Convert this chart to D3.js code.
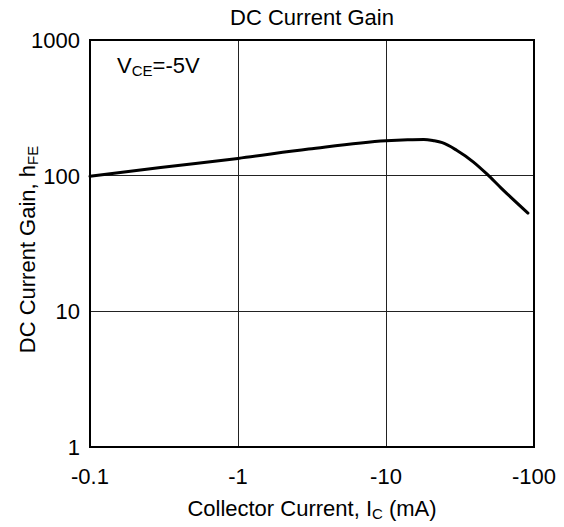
<!DOCTYPE html>
<html>
<head>
<meta charset="utf-8">
<script src="https://cdn.jsdelivr.net/npm/d3@7"></script>
<style>
  body { margin: 0; background: #fff; }
  text { font-family: "Liberation Sans", Arial, sans-serif; fill: #000; }
</style>
</head>
<body>
<div id="chart"></div>
<script>
// Data (Ic in mA, magnitude; hFE)
const current = [0.1, 0.3, 1, 3, 10, 14, 18, 21, 24, 30, 39, 48, 60, 91];
const gain = [99, 115, 134, 157, 181, 184, 185, 181, 175, 154, 126, 103, 81, 53];
const xTicks = [0.1, 1, 10, 100];
const xTickLabels = ["-0.1", "-1", "-10", "-100"];
const yTicks = [1, 10, 100, 1000];

const W = 564, H = 527;
const margin = { top: 40, right: 30, bottom: 80, left: 90 };
const width = W - margin.left - margin.right;
const height = H - margin.top - margin.bottom;

const svg = d3.select("#chart").append("svg")
  .attr("width", W).attr("height", H);

const g = svg.append("g")
  .attr("transform", `translate(${margin.left},${margin.top})`);

const x = d3.scaleLog().domain([0.1, 100]).range([0, width]);
const y = d3.scaleLog().domain([1, 1000]).range([height, 0]);

// grid
g.selectAll(".vgrid").data(xTicks.slice(1, -1)).enter().append("line")
  .attr("x1", d => x(d)).attr("x2", d => x(d))
  .attr("y1", 0).attr("y2", height)
  .attr("stroke", "#222").attr("stroke-width", 1)
  .attr("shape-rendering", "crispEdges");
g.selectAll(".hgrid").data(yTicks.slice(1, -1)).enter().append("line")
  .attr("y1", d => y(d)).attr("y2", d => y(d))
  .attr("x1", 0).attr("x2", width)
  .attr("stroke", "#222").attr("stroke-width", 1)
  .attr("shape-rendering", "crispEdges");

// frame
g.append("rect")
  .attr("width", width).attr("height", height)
  .attr("fill", "none").attr("stroke", "#000").attr("stroke-width", 2);

// tick labels
g.selectAll(".xlab").data(xTicks).enter().append("text")
  .attr("x", d => x(d)).attr("y", height + 37)
  .attr("text-anchor", "middle").attr("font-size", 22)
  .text((d, i) => xTickLabels[i]);
g.selectAll(".ylab").data(yTicks).enter().append("text")
  .attr("x", -10).attr("y", d => y(d) + 8)
  .attr("text-anchor", "end").attr("font-size", 22)
  .text(d => d);

// curve
const line = d3.line()
  .x(d => x(d[0])).y(d => y(d[1]))
  .curve(d3.curveMonotoneX);
g.append("path")
  .datum(current.map((c, i) => [c, gain[i]]))
  .attr("d", line)
  .attr("fill", "none").attr("stroke", "#000")
  .attr("stroke-width", 3).attr("stroke-linecap", "round");

// annotation
const ann = g.append("text").attr("x", 27).attr("y", 33).attr("font-size", 22);
ann.append("tspan").text("V");
ann.append("tspan").attr("font-size", 15).attr("dy", 3).text("CE");
ann.append("tspan").attr("dy", -3).text("=-5V");

// title
svg.append("text")
  .attr("x", margin.left + width / 2).attr("y", 25)
  .attr("text-anchor", "middle").attr("font-size", 22)
  .text("DC Current Gain");

// x axis title
const xt = svg.append("text")
  .attr("x", margin.left + width / 2).attr("y", 516)
  .attr("text-anchor", "middle").attr("font-size", 22);
xt.append("tspan").text("Collector Current, I");
xt.append("tspan").attr("font-size", 15).attr("dy", 3).text("C");
xt.append("tspan").attr("dy", -3).text(" (mA)");

// y axis title
const yt = svg.append("text")
  .attr("transform", `translate(35,${margin.top + height / 2 + 6}) rotate(-90)`)
  .attr("text-anchor", "middle").attr("font-size", 22);
yt.append("tspan").text("DC Current Gain, h");
yt.append("tspan").attr("font-size", 15).attr("dy", 3).text("FE");
</script>
</body>
</html>
